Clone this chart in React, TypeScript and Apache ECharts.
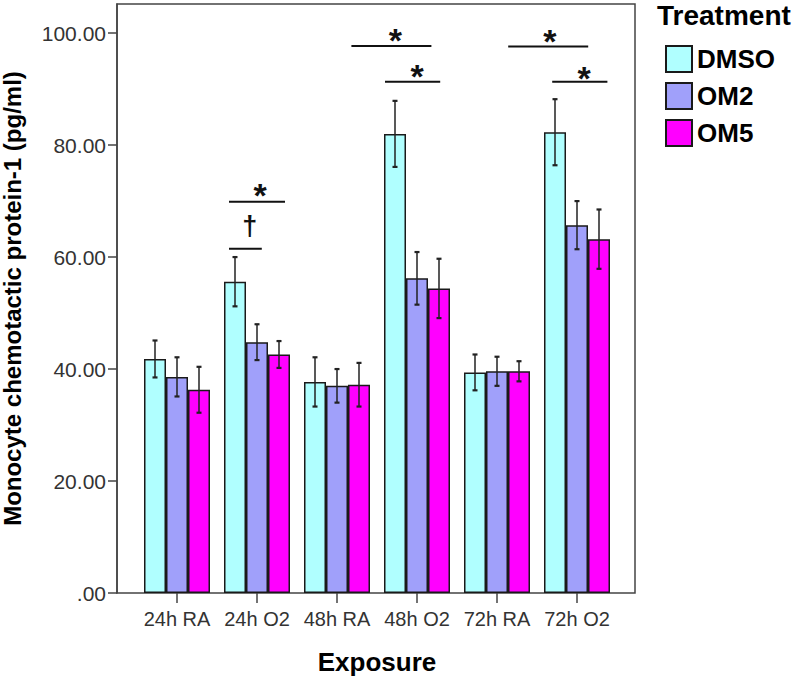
import React, { useEffect, useRef } from "react";
import * as echarts from "echarts";

const categories = ["24h RA", "24h O2", "48h RA", "48h O2", "72h RA", "72h O2"];
const seriesNames = ["DMSO", "OM2", "OM5"];
const dmsoValues = [41.8, 55.6, 37.7, 82.0, 39.4, 82.3];
const dmsoErrors = [3.3, 4.4, 4.4, 5.9, 3.2, 5.9];
const om2Values = [38.6, 44.8, 37.0, 56.2, 39.6, 65.7];
const om2Errors = [3.5, 3.2, 3.0, 4.7, 2.6, 4.3];
const om5Values = [36.3, 42.6, 37.2, 54.4, 39.6, 63.2];
const om5Errors = [4.1, 2.4, 3.9, 5.3, 1.8, 5.3];
const yTickValues = [0, 20, 40, 60, 80, 100];
// significance brackets: [x start, x end, y] in category units
const sigLines = [
  [0.65, 1.35, 69.9],
  [0.65, 1.06, 61.5],
  [2.18, 3.18, 97.7],
  [2.6, 3.29, 91.3],
  [4.14, 5.14, 97.6],
  [4.69, 5.38, 91.3],
];
const sigMarkPositions = [
  [1.04, 72.5],
  [0.91, 65.6],
  [2.73, 100.1],
  [3.0, 93.6],
  [4.66, 100.0],
  [5.09, 93.4],
];
const sigMarkTexts = ["*", "†", "*", "*", "*", "*"];

const colors = ["#b0ffff", "#a0a0fa", "#ff00ff"];
const FONT = "Liberation Sans, Arial, sans-serif";
const BAR_W = 22;

export default function App() {
  const ref = useRef<HTMLDivElement>(null);
  useEffect(() => {
    document.body.style.margin = "0";
    const chart = echarts.init(ref.current!, null, { renderer: "svg" });
    const values = [dmsoValues, om2Values, om5Values];
    const errors = [dmsoErrors, om2Errors, om5Errors];

    const barSeries = seriesNames.map((name, k) => ({
      name,
      type: "bar",
      xAxisIndex: 1,
      yAxisIndex: 1,
      barWidth: BAR_W,
      barGap: "0%",
      data: values[k],
      itemStyle: { color: colors[k], borderColor: "#1a1a1a", borderWidth: 1.5 },
      z: 2,
    }));

    const errSeries = seriesNames.map((name, k) => ({
      name: name + "-err",
      type: "custom",
      xAxisIndex: 1,
      yAxisIndex: 1,
      z: 5,
      silent: true,
      data: values[k].map((v, i) => [i, v - errors[k][i], v + errors[k][i]]),
      renderItem: (params: any, api: any) => {
        const i = api.value(0);
        const lo = api.coord([i, api.value(1)]);
        const hi = api.coord([i, api.value(2)]);
        const x = lo[0] + (k - 1) * BAR_W;
        const st = { stroke: "#222", lineWidth: 1.5 };
        const cap = { stroke: "#222", lineWidth: 2.2 };
        return {
          type: "group",
          children: [
            { type: "line", shape: { x1: x, y1: lo[1], x2: x, y2: hi[1] }, style: st },
            { type: "line", shape: { x1: x - 2.5, y1: lo[1], x2: x + 2.5, y2: lo[1] }, style: cap },
            { type: "line", shape: { x1: x - 2.5, y1: hi[1], x2: x + 2.5, y2: hi[1] }, style: cap },
          ],
        };
      },
    }));

    const option: any = {
      animation: false,
      title: {
        text: "Treatment",
        left: 657,
        top: 1,
        padding: 0,
        textStyle: { fontFamily: FONT, fontSize: 28, fontWeight: "bold", color: "#000" },
      },
      legend: {
        data: seriesNames,
        orient: "vertical",
        left: 665,
        top: 45,
        padding: 0,
        itemWidth: 26,
        itemHeight: 26,
        itemGap: 9,
        icon: "rect",
        selectedMode: false,
        textStyle: { fontFamily: FONT, fontSize: 26, fontWeight: "bold", color: "#000" },
      },
      grid: [
        {
          left: 117,
          width: 518,
          top: 4,
          height: 589,
          show: true,
          borderColor: "#444",
          borderWidth: 1.5,
          backgroundColor: "transparent",
          outerBoundsMode: "none",
        },
        {
          left: 137,
          width: 480,
          top: 4,
          height: 589,
          outerBoundsMode: "none",
        },
      ],
      xAxis: [
        {
          type: "value",
          gridIndex: 0,
          min: -0.75,
          max: 5.725,
          show: false,
        },
        {
          type: "category",
          gridIndex: 1,
          data: categories,
          axisLine: { show: false },
          axisTick: { show: true, alignWithLabel: true, length: 10, lineStyle: { color: "#444", width: 1.5 } },
          axisLabel: { interval: 0, fontFamily: FONT, fontSize: 20, color: "#333", margin: 16 },
          name: "Exposure",
          nameLocation: "middle",
          nameGap: 56,
          nameTextStyle: { fontFamily: FONT, fontSize: 26, fontWeight: "bold", color: "#000" },
        },
      ],
      yAxis: [
        {
          type: "value",
          gridIndex: 0,
          min: 0,
          max: 105.2,
          interval: 20,
          splitLine: { show: false },
          axisLine: { show: true, onZero: false, lineStyle: { color: "#444", width: 1.5 } },
          axisTick: { show: true, length: 9, customValues: yTickValues, lineStyle: { color: "#444", width: 1.5 } },
          axisLabel: {
            fontFamily: FONT,
            fontSize: 21,
            color: "#333",
            margin: 11,
            customValues: yTickValues,
            formatter: (v: number) => (v % 20 !== 0 ? "" : v === 0 ? ".00" : v.toFixed(2)),
          },
          name: "Monocyte chemotactic protein-1 (pg/ml)",
          nameLocation: "middle",
          nameGap: 93,
          nameTextStyle: { fontFamily: FONT, fontSize: 24, fontWeight: "bold", color: "#000" },
        },
        {
          type: "value",
          gridIndex: 1,
          min: 0,
          max: 105.2,
          show: false,
          axisLine: { show: false, onZero: false },
          splitLine: { show: false },
        },
      ],
      series: [
        ...barSeries,
        ...errSeries,
        {
          name: "sig-lines",
          type: "custom",
          xAxisIndex: 0,
          yAxisIndex: 0,
          z: 6,
          silent: true,
          data: sigLines,
          renderItem: (params: any, api: any) => {
            const a = api.coord([api.value(0), api.value(2)]);
            const b = api.coord([api.value(1), api.value(2)]);
            return {
              type: "line",
              shape: { x1: a[0], y1: a[1], x2: b[0], y2: b[1] },
              style: { stroke: "#111", lineWidth: 2 },
            };
          },
        },
        {
          name: "sig-marks",
          type: "custom",
          xAxisIndex: 0,
          yAxisIndex: 0,
          z: 6,
          silent: true,
          data: sigMarkPositions,
          renderItem: (params: any, api: any) => {
            const p = api.coord([api.value(0), api.value(1)]);
            const t = sigMarkTexts[params.dataIndex];
            const isStar = t === "*";
            const fs = isStar ? 34 : 27;
            return {
              type: "text",
              x: p[0],
              y: p[1] + (isStar ? 0.22 * fs : 0),
              style: {
                text: t,
                fontFamily: FONT,
                fontSize: fs,
                fontWeight: "bold",
                fill: "#111",
                align: "center",
                verticalAlign: "middle",
              },
            };
          },
        },
      ],
    };
    chart.setOption(option);
    return () => chart.dispose();
  }, []);
  return <div ref={ref} style={{ width: 800, height: 680 }} />;
}
